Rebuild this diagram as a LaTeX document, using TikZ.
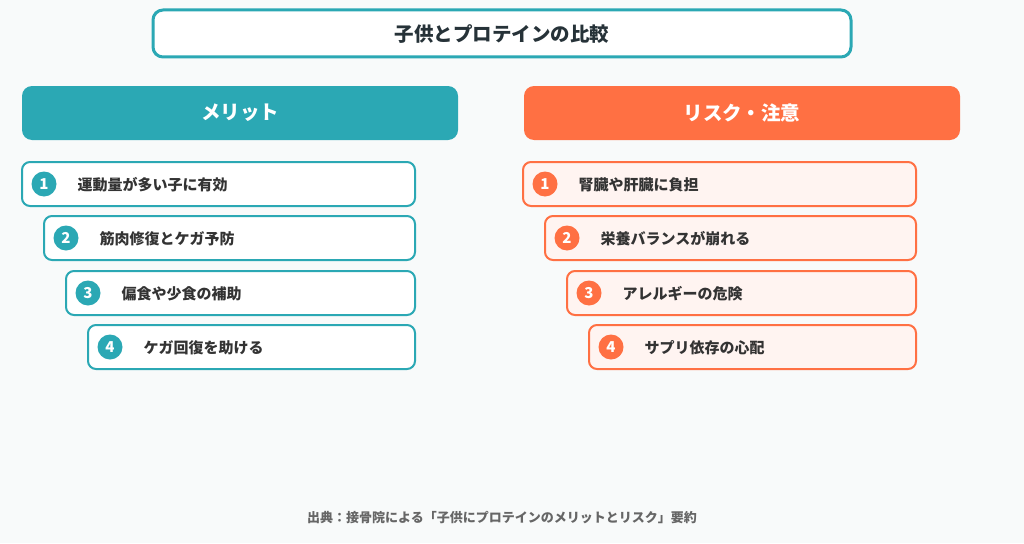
\documentclass[tikz,border=0pt]{standalone}
\usepackage{fontspec}
\newfontfamily\jp{Noto Sans CJK JP}
\definecolor{bg}{HTML}{F8FAFA}
\definecolor{teal}{HTML}{2BA8B4}
\definecolor{orng}{HTML}{FF7043}
\definecolor{pinkfill}{HTML}{FFF4F1}
\definecolor{dark}{HTML}{263238}
\definecolor{itemtxt}{HTML}{333333}
\definecolor{foot}{HTML}{666666}
\tikzset{
  titlebox/.style={draw=teal, line width=3pt, fill=white, rounded corners=10pt},
  headL/.style={fill=teal, draw=none, rounded corners=10pt},
  headR/.style={fill=orng, draw=none, rounded corners=10pt},
  itemL/.style={draw=teal, line width=2pt, fill=white, rounded corners=8pt},
  itemR/.style={draw=orng, line width=2pt, fill=pinkfill, rounded corners=8pt},
  numL/.style={circle, fill=teal, minimum size=25pt, inner sep=0pt, text=white, font=\jp\bfseries\fontsize{15}{15}\selectfont},
  numR/.style={circle, fill=orng, minimum size=25pt, inner sep=0pt, text=white, font=\jp\bfseries\fontsize{15}{15}\selectfont},
  itext/.style={anchor=west, inner sep=0pt, text=itemtxt, font=\jp\bfseries\fontsize{15}{15}\selectfont},
  htext/.style={text=white, inner sep=0pt, font=\jp\bfseries\fontsize{19.5}{19.5}\selectfont},
}
\begin{document}
\begin{tikzpicture}[x=1pt,y=-1pt]
\useasboundingbox (0,0) rectangle (1024,543);
\fill[bg] (0,0) rectangle (1024,543);
% title
\draw[titlebox] (153,10) rectangle (851,57);
\node[text=dark, inner sep=0pt, font=\jp\bfseries\fontsize{19.5}{19.5}\selectfont] (title) at (502,34) {子供とプロテインの比較};
% headers
\fill[headL] (22,86) rectangle (458,140);
\node[htext] (hL) at (240,113) {メリット};
\fill[headR] (524,86) rectangle (960,140);
\node[htext] (hR) at (742,113) {リスク・注意};
% left items
\foreach \i/\x/\y/\t in {1/22/162/運動量が多い子に有効, 2/44/216/筋肉修復とケガ予防, 3/66/271/偏食や少食の補助, 4/88/325/ケガ回復を助ける}{
  \draw[itemL] (\x,\y) rectangle (415,\y+44);
  \node[numL] (nL\i) at (\x+22,\y+22) {\i};
  \node[itext] (tL\i) at (\x+55.5,\y+22.5) {\t};
}
% right items
\foreach \i/\x/\y/\t in {1/523/162/腎臓や肝臓に負担, 2/545/216/栄養バランスが崩れる, 3/567/271/アレルギーの危険, 4/589/325/サプリ依存の心配}{
  \draw[itemR] (\x,\y) rectangle (916,\y+44);
  \node[numR] (nR\i) at (\x+22,\y+22) {\i};
  \node[itext] (tR\i) at (\x+55.5,\y+22.5) {\t};
}
% footer
\node[text=foot, inner sep=0pt, font=\jp\bfseries\fontsize{13}{13}\selectfont] (foot) at (502,518) {出典：接骨院による「子供にプロテインのメリットとリスク」要約};
\end{tikzpicture}
\end{document}
